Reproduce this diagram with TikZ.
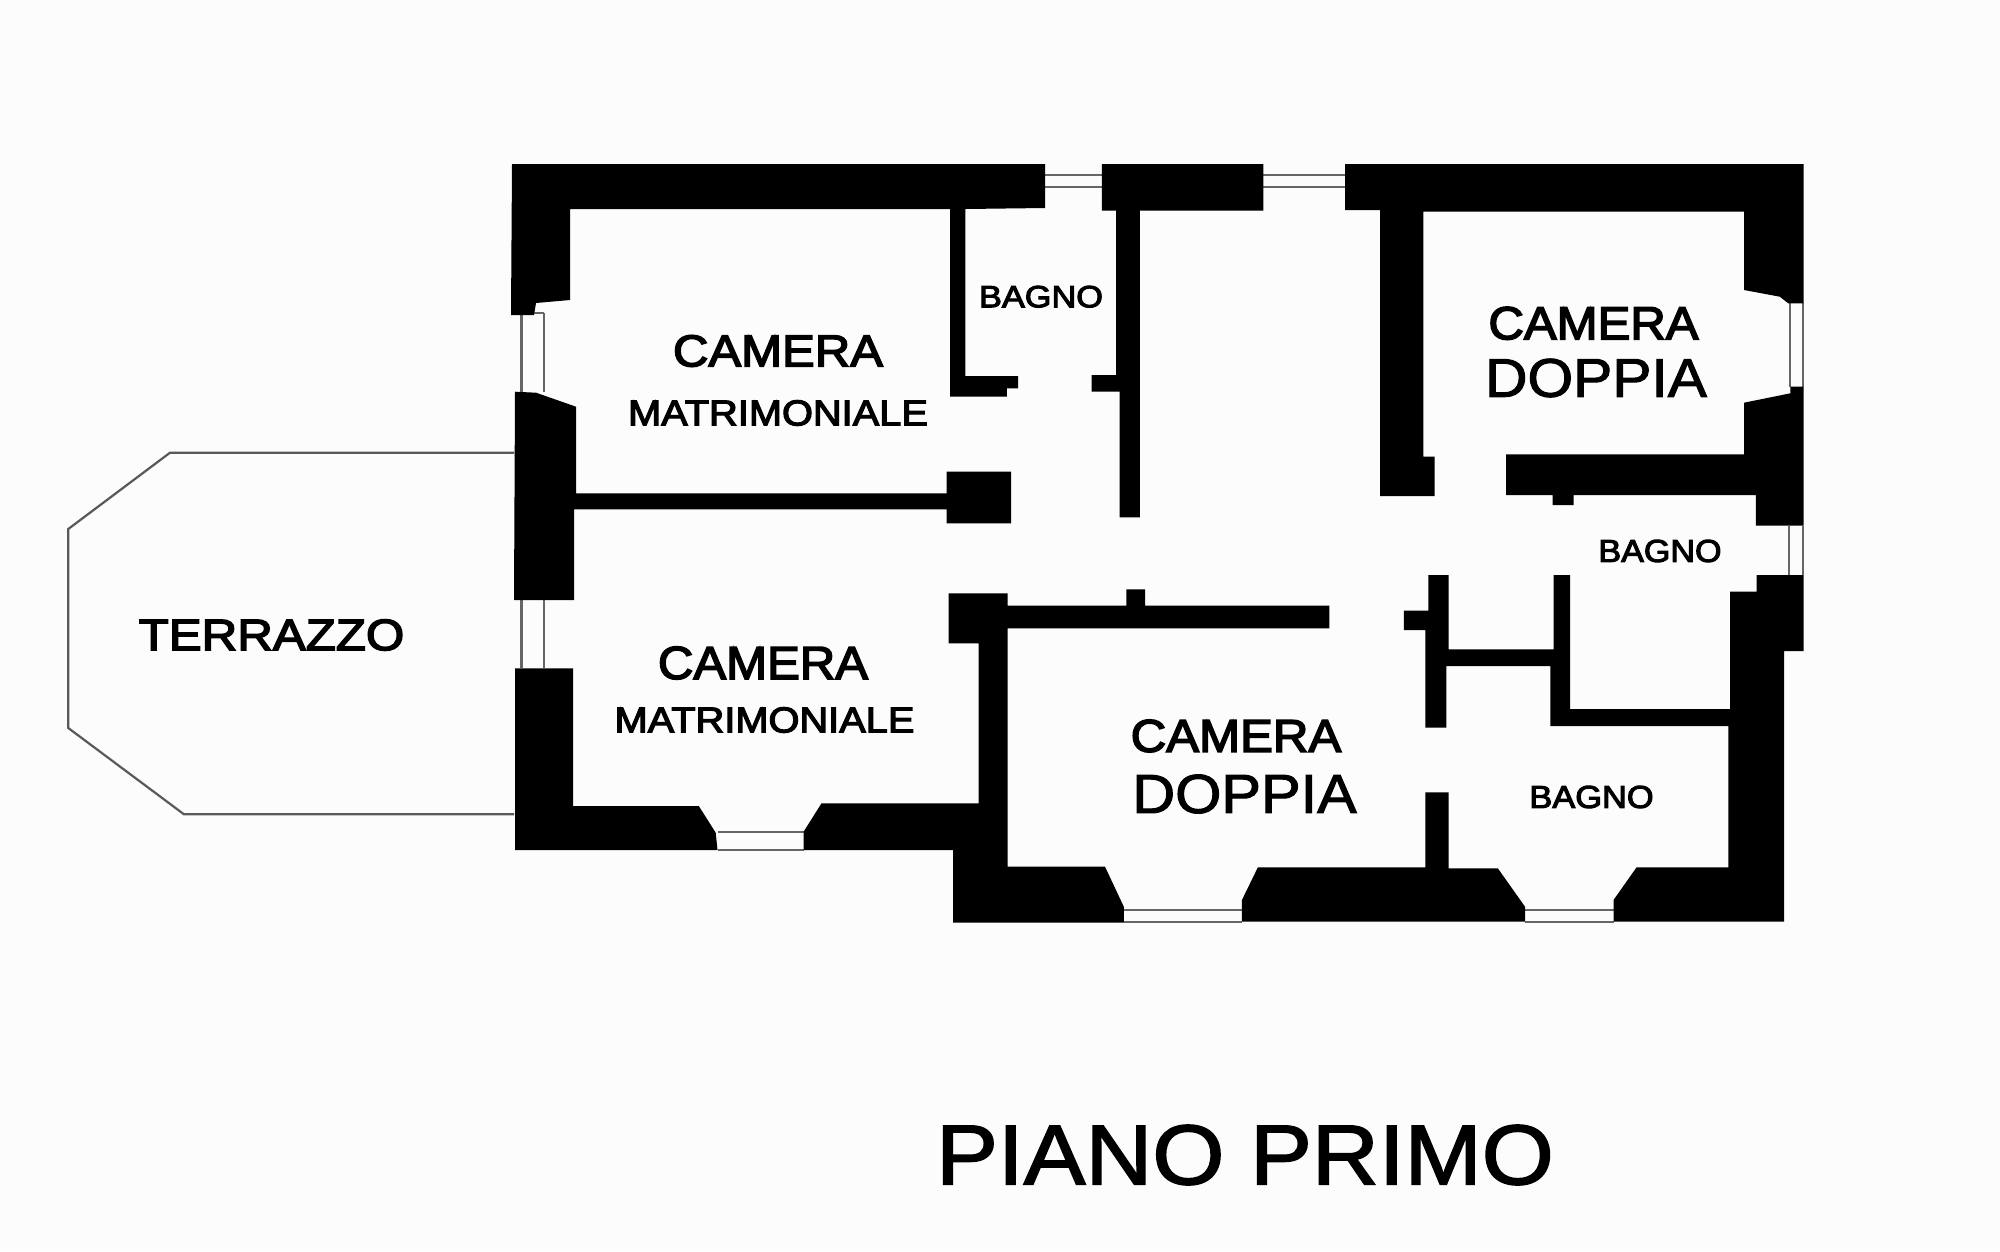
\documentclass[tikz,border=0pt]{standalone}
\usepackage{fontspec}
\setmainfont[FakeBold=1.8]{Liberation Sans}
\newfontfamily\smallbold[FakeBold=3.2]{Liberation Sans}
\tikzset{
  wall/.style={fill=black,draw=none},
  winline/.style={draw=black!60,line width=2.2pt},
  thin/.style={draw=black!65,line width=2.2pt},
  lab/.style={inner sep=0pt,transform shape,anchor=center,text=black}
}
\newcommand{\fs}[1]{\fontsize{#1}{#1}\selectfont}
\begin{document}
\begin{tikzpicture}[x=1pt,y=-1pt]
\useasboundingbox (0,0) rectangle (2000,1251);
\fill[white!99!black] (0,0) rectangle (2000,1251);
% terrace
\draw[thin] (514,452.7) -- (170,452.7) -- (68.3,529) -- (68.3,728) -- (184,814.3) -- (514,814.3);
% windows
\draw[winline] (1045,175)--(1102,175) (1045,187)--(1102,187);
\draw[winline] (1263,175)--(1345,175) (1263,187)--(1345,187);
\draw[winline] (521.5,315)--(521.5,392) (544,313)--(544,392) (534,313)--(544,313);
\draw[winline] (521.5,600)--(521.5,668) (544,600)--(544,668);
\draw[winline] (717.5,831.7)--(803.6,831.7) (717.5,850)--(803.6,850);
\draw[winline] (1123.8,910)--(1241.9,910) (1123.8,922)--(1241.9,922);
\draw[winline] (1525,910)--(1613.5,910) (1525,922)--(1613.5,922);
\draw[winline] (1790.3,303)--(1790.3,387) (1803,303)--(1803,387);
\draw[winline] (1789,525.7)--(1789,575) (1803,525.7)--(1803,575);
% top wall + left upper block
\fill[wall] (512,164) -- (1045,164) -- (1045,208) -- (965.3,209) -- (965.3,376) -- (1018,376) -- (1018,388.3) -- (1006.8,388.3) -- (1006.8,396.7) -- (950,396.7) -- (950,209) -- (570,209) -- (570,300) -- (536,303) -- (534,315) -- (511,315) -- cycle;
% left wall centre with partition
\fill[wall] (515,391.7) -- (536,392.7) -- (576,406.7) -- (576,493.3) -- (946.5,493.3) -- (946.5,471.7) -- (1011,471.7) -- (1011,523.3) -- (946.5,523.3) -- (946.5,509.3) -- (574,509.3) -- (574,600) -- (514,600) -- cycle;
% lower left block
\fill[wall] (515,668.3) -- (573,668.3) -- (573,806) -- (698.8,806) -- (715.7,832.7) -- (717.5,850) -- (515,850) -- cycle;
% central block and walls to bottom
\fill[wall] (803.6,850) -- (803.6,831.7) -- (821.5,803.3) -- (978.7,803.3) -- (978.7,643.3) -- (948.7,643.3) -- (948.7,593.3) -- (1007.7,593.3) -- (1007.7,605.7) -- (1126.4,605.7) -- (1126.4,589.3) -- (1145,589.3) -- (1145,605.7) -- (1329.4,605.7) -- (1329.4,628.3) -- (1007.7,628.3) -- (1007.7,866.7) -- (1105,866.7) -- (1123.8,906.7) -- (1123.8,922.7) -- (953.2,922.7) -- (953.2,850) -- cycle;
% top middle block
\fill[wall] (1101.9,164) -- (1263.3,164) -- (1263.3,210.7) -- (1139.8,210.7) -- (1139.8,517.3) -- (1119.7,517.3) -- (1119.7,391.7) -- (1091.6,391.7) -- (1091.6,375) -- (1116.2,375) -- (1116.2,210.7) -- (1101.9,210.7) -- cycle;
% top right wall
\fill[wall] (1345,164) -- (1803.7,164) -- (1803.7,303.3) -- (1788.2,303.3) -- (1779.8,296.7) -- (1744,290) -- (1744,211.7) -- (1423.3,211.7) -- (1423.3,456.7) -- (1434.6,456.7) -- (1434.6,496) -- (1380,496) -- (1380,210) -- (1345,210) -- cycle;
% right block below window
\fill[wall] (1803.7,386.7) -- (1803.7,525.7) -- (1755.8,525.7) -- (1755.8,495) -- (1573.5,495) -- (1573.5,505) -- (1552.5,505) -- (1552.5,495) -- (1506.2,495) -- (1506.2,454.3) -- (1744,454.3) -- (1744,402.7) -- (1790.3,393.3) -- (1790.3,386.7) -- cycle;
% right lower wall
\fill[wall] (1756.6,575) -- (1803.7,575) -- (1803.7,651) -- (1784,651) -- (1784,921.7) -- (1613.5,921.7) -- (1613.5,900) -- (1636.6,867.3) -- (1728.4,867.3) -- (1728.4,726) -- (1550.4,726) -- (1550.4,666) -- (1446.4,666) -- (1446.4,727.7) -- (1425.4,727.7) -- (1425.4,630) -- (1403.9,630) -- (1403.9,610.7) -- (1428.3,610.7) -- (1428.3,575) -- (1448.5,575) -- (1448.5,649.3) -- (1553.7,649.3) -- (1553.7,575) -- (1570.2,575) -- (1570.2,709) -- (1730,709) -- (1730,591.7) -- (1756.6,591.7) -- cycle;
% bottom central block with stub
\fill[wall] (1241.9,921.7) -- (1241.9,900) -- (1257.9,867.3) -- (1425.4,867.3) -- (1425.4,792.3) -- (1448.5,792.3) -- (1448.5,868.3) -- (1497.8,868.3) -- (1525,906.7) -- (1525,921.7) -- cycle;
% labels
\node[lab,xscale=1.098] (cm1) at (778,351) {\smallbold\fs{44.7}CAMERA};
\node[lab,xscale=1.105] (mm1) at (778,413) {\smallbold\fs{36}MATRIMONIALE};
\node[lab,xscale=1.117] (bg1) at (1041,296.7) {\smallbold\fs{30.7}BAGNO};
\node[lab,xscale=1.056] (cd1) at (1593.5,323.3) {\smallbold\fs{46.5}CAMERA};
\node[lab,xscale=1.077] (dp1) at (1596,378) {\fs{54.5}DOPPIA};
\node[lab,xscale=1.075] (bg2) at (1660,551) {\smallbold\fs{31.7}BAGNO};
\node[lab,xscale=1.056] (cm2) at (763,663) {\smallbold\fs{46.5}CAMERA};
\node[lab,xscale=1.105] (mm2) at (764.5,720) {\smallbold\fs{36}MATRIMONIALE};
\node[lab,xscale=1.07] (cd2) at (1236,736) {\smallbold\fs{46}CAMERA};
\node[lab,xscale=1.08] (dp2) at (1244.5,794) {\fs{55}DOPPIA};
\node[lab,xscale=1.085] (bg3) at (1591.5,797) {\smallbold\fs{31.7}BAGNO};
\node[lab,xscale=1.12] (tz) at (271.5,635) {\smallbold\fs{44}TERRAZZO};
\node[lab,xscale=1.09] (pp) at (1245,1155) {\fs{85}PIANO PRIMO};
\end{tikzpicture}
\end{document}
